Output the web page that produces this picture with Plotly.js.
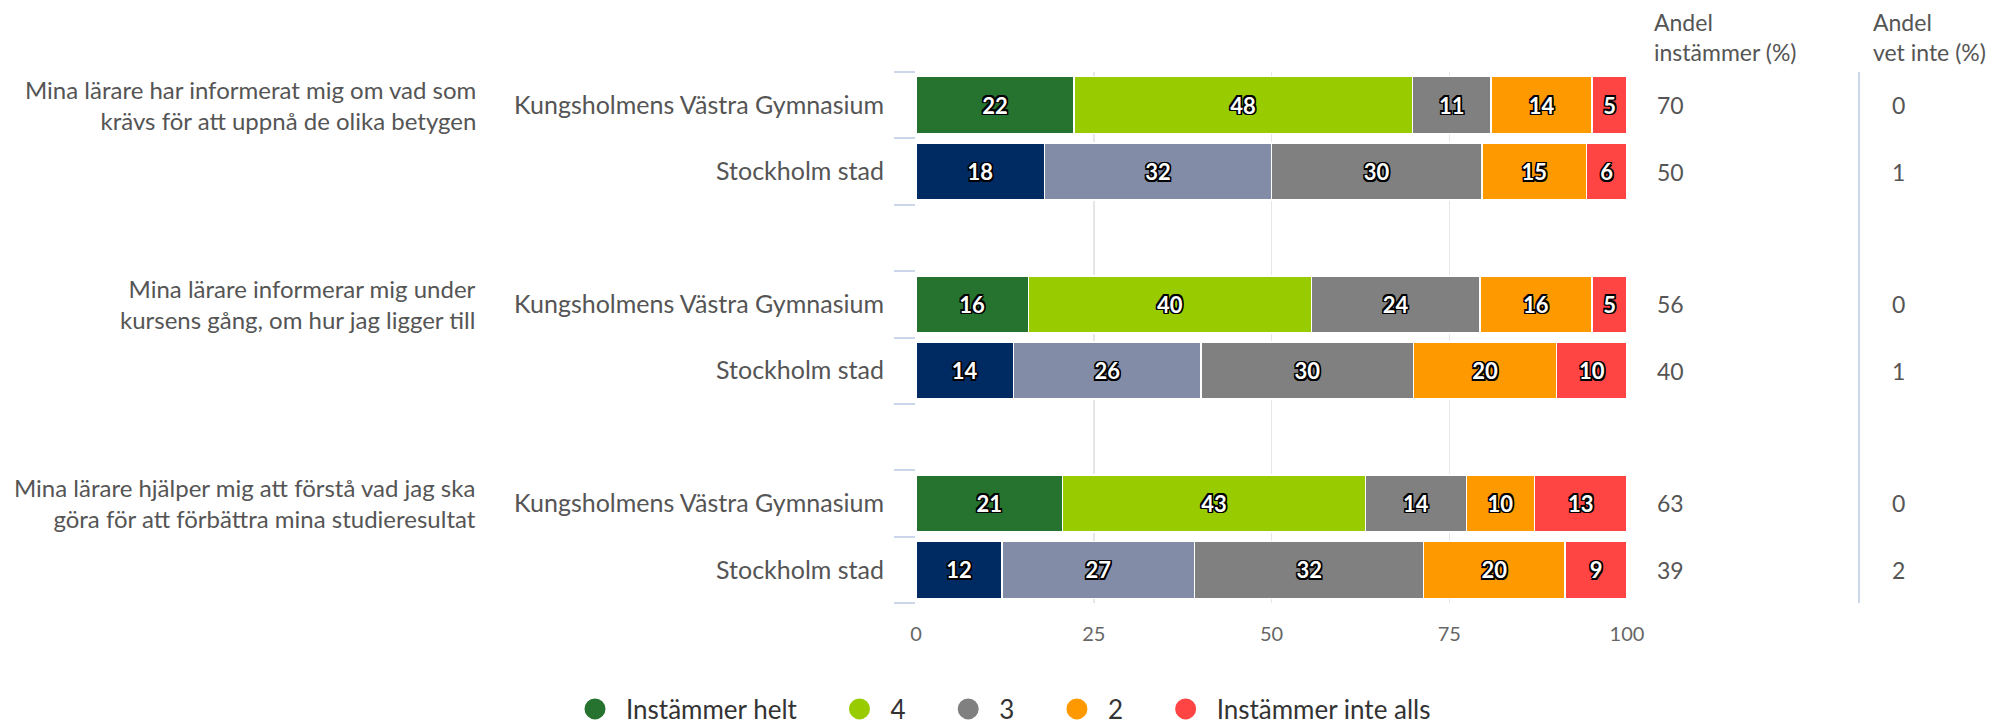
<!DOCTYPE html>
<html>
<head>
<meta charset="utf-8">
<script src="https://cdn.plot.ly/plotly-3.0.1.min.js"></script>
<style>
  html, body { margin: 0; padding: 0; background: #fff; }
  #chart { width: 2015px; height: 724px; }
</style>
</head>
<body>
<div id="chart"></div>
<script>
// ---- data ----
const questions = [
  "Mina lärare har informerat mig om vad som<br>krävs för att uppnå de olika betygen",
  "Mina lärare informerar mig under<br>kursens gång, om hur jag ligger till",
  "Mina lärare hjälper mig att förstå vad jag ska<br>göra för att förbättra mina studieresultat"
];
const groups = ["Kungsholmens Västra Gymnasium", "Stockholm stad"];
const seriesNames = ["Instämmer helt", "4", "3", "2", "Instämmer inte alls"];

// rows: Q1 KVG, Q1 Sthlm, Q2 KVG, Q2 Sthlm, Q3 KVG, Q3 Sthlm
const instammerHelt = [22.2, 18.1, 15.8, 13.7, 20.6, 12.1];
const fyra          = [47.6, 31.9, 39.8, 26.4, 42.6, 27.1];
const tre           = [11.1, 29.6, 23.7, 29.9, 14.2, 32.2];
const tva           = [14.2, 14.7, 15.8, 20.1, 9.6, 19.9];
const inteAlls      = [4.9, 5.7, 4.9, 9.9, 13.0, 8.7];

const andelInstammer = [70, 50, 56, 40, 63, 39];
const andelVetInte   = [0, 1, 0, 1, 0, 2];

const xTicks = [0, 25, 50, 75, 100];

// ---- colours ----
const schoolColors = ["#267330", "#99cc00", "#808080", "#ff9900", "#ff4444"];
const cityColors   = ["#002a62", "#828ca7", "#808080", "#ff9900", "#ff4444"];

// ---- build categories ----
const rowIds = [];
const rowGroup = [];
const catOrder = [];
const catText = [];
questions.forEach((q, qi) => {
  groups.forEach((g, gi) => {
    const id = qi + "|" + g;
    rowIds.push(id); rowGroup.push(gi);
    catOrder.push(id); catText.push(g);
  });
  if (qi < questions.length - 1) { catOrder.push("gap" + qi); catText.push(""); }
});

const seriesValues = [instammerHelt, fyra, tre, tva, inteAlls];
const FONT = "Lato, 'Open Sans', sans-serif";
const outline = "-1.5px -1.5px 0 #000, 1.5px -1.5px 0 #000, -1.5px 1.5px 0 #000, 1.5px 1.5px 0 #000, 0 1.5px 0 #000, 0 -1.5px 0 #000, 1.5px 0 0 #000, -1.5px 0 0 #000";
const NB = "\u00a0\u00a0\u00a0\u00a0";

const traces = [];
seriesValues.forEach((vals, si) => {
  traces.push({
    type: "bar",
    orientation: "h",
    name: seriesNames[si],
    x: vals,
    y: rowIds,
    marker: {
      color: rowGroup.map(g => g === 0 ? schoolColors[si] : cityColors[si]),
      line: { color: "#ffffff", width: 1.5 }
    },
    texttemplate: "%{x:.0f}",
    textposition: "inside",
    insidetextanchor: "middle",
    textangle: 0,
    insidetextfont: { family: FONT, size: 22, color: "#ffffff", weight: "bold", shadow: outline },
    showlegend: false,
    hoverinfo: "skip"
  });
});
// legend entries (circle symbols)
seriesNames.forEach((n, si) => {
  traces.push({
    type: "scatter", mode: "markers", name: n + (si < seriesNames.length - 1 ? NB : ""),
    x: [null], y: [null],
    marker: { symbol: "circle", size: 16, color: schoolColors[si], line: { color: schoolColors[si], width: 5 } },
    showlegend: true, hoverinfo: "skip"
  });
});

const L = 916, R = 1627, T = 72, B = 603;
const W = R - L, H = B - T;
const px = x => (x - L) / W;
const py = y => (B - y) / H;

const TXT = "#555555";
const annotations = [];
questions.forEach((q, qi) => {
  annotations.push({
    xref: "paper", yref: "y", x: px(478), y: qi + "|" + groups[0],
    xanchor: "right", yanchor: "middle", align: "right",
    text: q, showarrow: false,
    font: { family: FONT, size: 24, color: TXT }
  });
});
annotations.push({
  xref: "paper", yref: "paper", x: px(1652), y: py(37), xanchor: "left", yanchor: "middle", align: "left",
  text: "Andel<br>instämmer (%)", showarrow: false, font: { family: FONT, size: 23, color: TXT }
});
annotations.push({
  xref: "paper", yref: "paper", x: px(1871), y: py(37), xanchor: "left", yanchor: "middle", align: "left",
  text: "Andel<br>vet inte (%)", showarrow: false, font: { family: FONT, size: 23, color: TXT }
});
rowIds.forEach((id, i) => {
  annotations.push({
    xref: "paper", yref: "y", x: px(1655), y: id, xanchor: "left", yanchor: "middle",
    text: String(andelInstammer[i]), showarrow: false, font: { family: FONT, size: 23, color: TXT }
  });
  annotations.push({
    xref: "paper", yref: "y", x: px(1890), y: id, xanchor: "left", yanchor: "middle",
    text: String(andelVetInte[i]), showarrow: false, font: { family: FONT, size: 23, color: TXT }
  });
});

const layout = {
  width: 2015, height: 724,
  margin: { l: L, r: 2015 - R, t: T, b: 724 - B, pad: 0, autoexpand: false },
  barmode: "stack",
  bargap: 0.14,
  paper_bgcolor: "#ffffff", plot_bgcolor: "#ffffff",
  font: { family: FONT, color: "#666666" },
  xaxis: {
    range: [0, 100], tickmode: "array", tickvals: xTicks,
    showgrid: true, gridcolor: "#e6e6e6", gridwidth: 1.5,
    zeroline: false, showline: false, ticks: "",
    tickfont: { family: FONT, size: 20, color: "#666666" },
    ticklabelstandoff: 17, fixedrange: true
  },
  yaxis: {
    type: "category", categoryorder: "array", categoryarray: catOrder,
    tickmode: "array", tickvals: catOrder, ticktext: catText,
    autorange: "reversed", tickson: "boundaries",
    ticks: "outside", ticklen: 21, tickwidth: 2, tickcolor: "#ccd6eb",
    showgrid: false, showline: false, zeroline: false,
    tickfont: { family: FONT, size: 25, color: TXT },
    ticklabelstandoff: 31, fixedrange: true
  },
  legend: {
    orientation: "h", x: px(564), xanchor: "left", y: py(709), yanchor: "middle",
    font: { family: FONT, size: 26, color: "#333333" },
    itemwidth: 52, traceorder: "normal"
  },
  shapes: [{
    type: "line", xref: "paper", yref: "paper", x0: px(1859), x1: px(1859), y0: 0, y1: 1,
    line: { color: "#ccd6eb", width: 2 }
  }],
  annotations: annotations,
  showlegend: true
};

Plotly.newPlot("chart", traces, layout, { displayModeBar: false, staticPlot: true });
</script>
</body>
</html>
